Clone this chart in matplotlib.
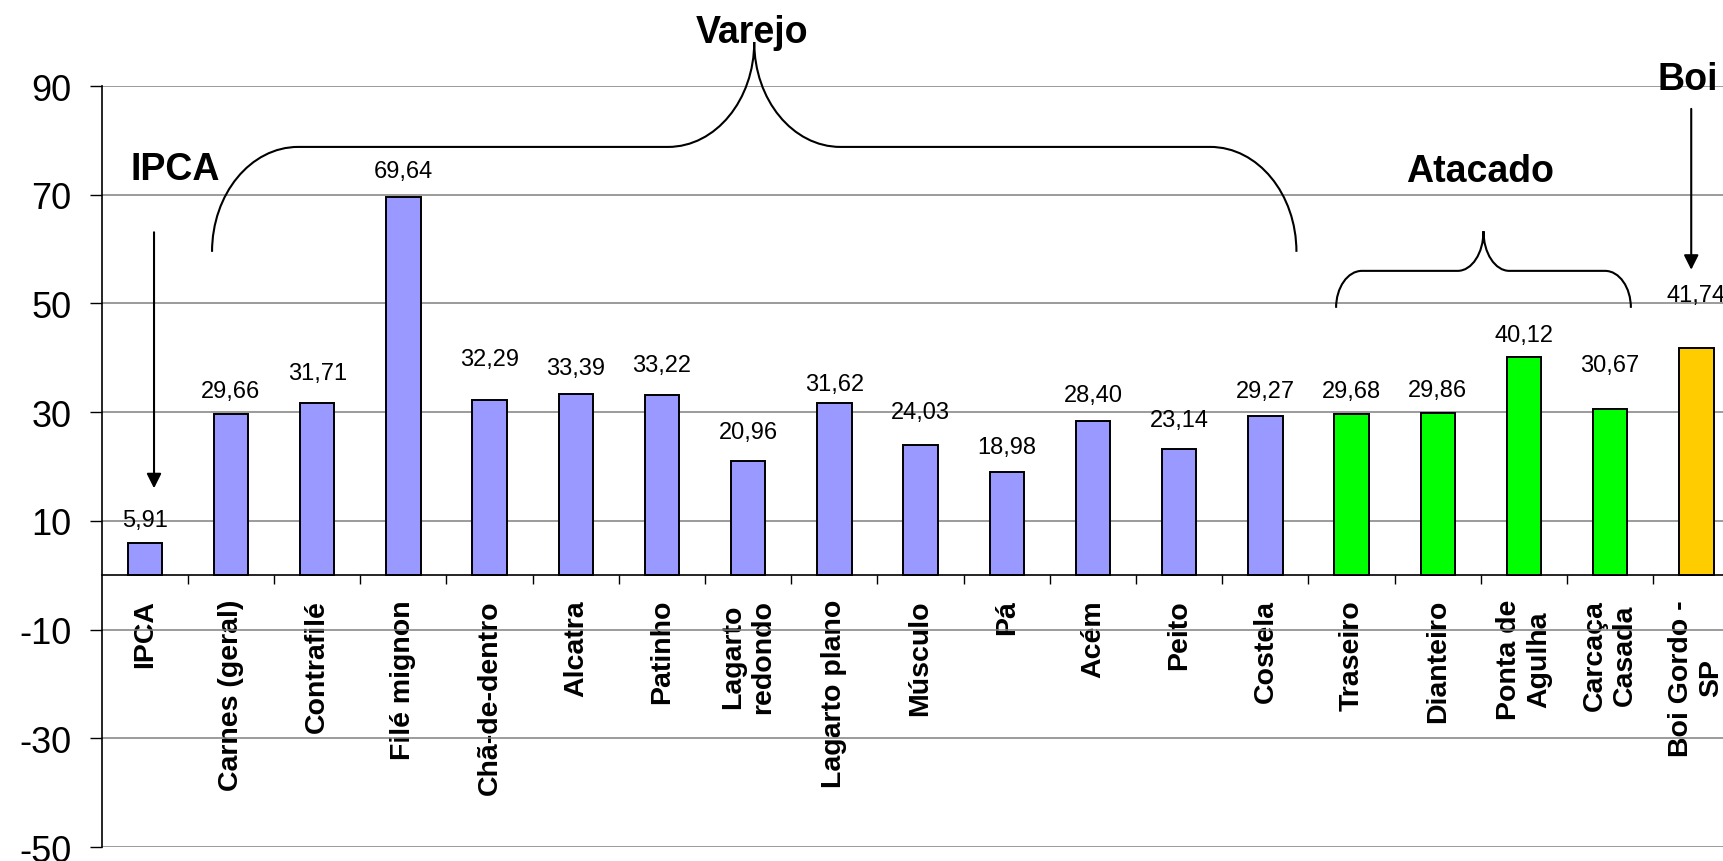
import numpy as np
import matplotlib
matplotlib.use('Agg')
import matplotlib.pyplot as plt
from matplotlib.path import Path
from matplotlib.patches import PathPatch

plt.rcParams['font.family'] = ['Liberation Sans', 'DejaVu Sans']

categories = ['IPCA', 'Carnes (geral)', 'Contrafilé', 'Filé mignon', 'Chã-de-dentro',
              'Alcatra', 'Patinho', 'Lagarto\nredondo', 'Lagarto plano', 'Músculo',
              'Pá', 'Acém', 'Peito', 'Costela', 'Traseiro', 'Dianteiro',
              'Ponta de\nAgulha', 'Carcaça\nCasada', 'Boi Gordo -\nSP']
values = [5.91, 29.66, 31.71, 69.64, 32.29, 33.39, 33.22, 20.96, 31.62, 24.03,
          18.98, 28.40, 23.14, 29.27, 29.68, 29.86, 40.12, 30.67, 41.74]
groups = ['varejo'] * 14 + ['atacado'] * 4 + ['boi']

colors = {'varejo': '#9999FF', 'atacado': '#00FF00', 'boi': '#FFCC00'}
# distance (points) between bar top and its value label
label_gap = [12, 12, 17, 14, 25, 14, 17, 17, 10, 19, 14, 14, 17, 14, 12, 12, 12, 27, 34]

fig = plt.figure(figsize=(17.24, 8.62), dpi=100)
ax = fig.add_axes([0.05899, 0.01613, 0.950, 0.8829])

x = np.arange(len(categories))
bars = ax.bar(x, values, width=0.4, color=[colors[g] for g in groups],
              edgecolor='black', linewidth=1.4, zorder=3)

for xi, v, gap in zip(x, values, label_gap):
    ax.annotate(f'{v:.2f}'.replace('.', ','), (xi, v), xytext=(0, gap),
                textcoords='offset points', ha='center', va='baseline',
                fontsize=17, zorder=4)

ax.set_xlim(-0.5, len(categories) - 0.5)
ax.set_ylim(-50, 90)
ax.set_yticks(np.arange(-50, 91, 20))
ax.yaxis.grid(True, color='#808080', linewidth=1.1, zorder=0)
ax.set_axisbelow(True)

ax.spines['top'].set_visible(False)
ax.spines['right'].set_visible(False)
ax.spines['bottom'].set_position(('data', 0))
ax.spines['bottom'].set_linewidth(1.2)
ax.spines['left'].set_linewidth(1.2)

ax.set_xticks(x)
ax.set_xticklabels(categories, rotation=90, fontsize=20.5, fontweight='bold',
                   ha='center', va='top')
ax.set_xticks(np.arange(0.5, len(categories) - 0.5, 1), minor=True)
ax.tick_params(axis='x', which='major', length=0, pad=17)
ax.tick_params(axis='x', which='minor', length=6.5, width=1, direction='out')
ax.tick_params(axis='y', length=8.6, width=1, pad=13, labelsize=26)
ax.set_yticklabels([str(t) for t in np.arange(-50, 91, 20)])


def brace(x0, x1, y_end, y_bar, y_tip, rx):
    # curly brace opening downward, tip in the middle
    xm = (x0 + x1) / 2
    k = 0.5523
    dy_c = y_bar - y_end
    dy_t = y_tip - y_bar
    verts = [(x0, y_end),
             (x0, y_end + k * dy_c), (x0 + rx - k * rx, y_bar), (x0 + rx, y_bar),
             (xm - rx, y_bar),
             (xm - rx + k * rx, y_bar), (xm, y_tip - k * dy_t), (xm, y_tip),
             (xm, y_tip - k * dy_t), (xm + rx - k * rx, y_bar), (xm + rx, y_bar),
             (x1 - rx, y_bar),
             (x1 - rx + k * rx, y_bar), (x1, y_end + k * dy_c), (x1, y_end)]
    codes = [Path.MOVETO,
             Path.CURVE4, Path.CURVE4, Path.CURVE4,
             Path.LINETO,
             Path.CURVE4, Path.CURVE4, Path.CURVE4,
             Path.CURVE4, Path.CURVE4, Path.CURVE4,
             Path.LINETO,
             Path.CURVE4, Path.CURVE4, Path.CURVE4]
    ax.add_patch(PathPatch(Path(verts, codes), facecolor='none', edgecolor='black',
                           linewidth=1.5, clip_on=False, zorder=5))


brace(0.78, 13.36, 59.5, 78.8, 98.1, 1.0)
brace(13.82, 17.24, 49.2, 56.0, 63.3, 0.3)

ax.text(7.05, 98.1, 'Varejo', ha='center', va='baseline', fontsize=27,
        fontweight='bold', clip_on=False)
ax.text(0.35, 72.9, 'IPCA', ha='center', va='baseline', fontsize=27, fontweight='bold')
ax.text(15.49, 72.6, 'Atacado', ha='center', va='baseline', fontsize=27, fontweight='bold')
ax.text(17.90, 89.4, 'Boi', ha='center', va='baseline', fontsize=27, fontweight='bold',
        clip_on=False, zorder=6)

arrow = dict(arrowstyle='-|>,head_length=0.4,head_width=0.2', mutation_scale=22,
             color='black', lw=1.5, shrinkA=0, shrinkB=0)
ax.annotate('', xy=(0.107, 16.0), xytext=(0.107, 63.1), arrowprops=arrow)
ax.annotate('', xy=(17.94, 56.2), xytext=(17.94, 85.8), arrowprops=arrow)

fig.savefig('out.png', dpi=100)
